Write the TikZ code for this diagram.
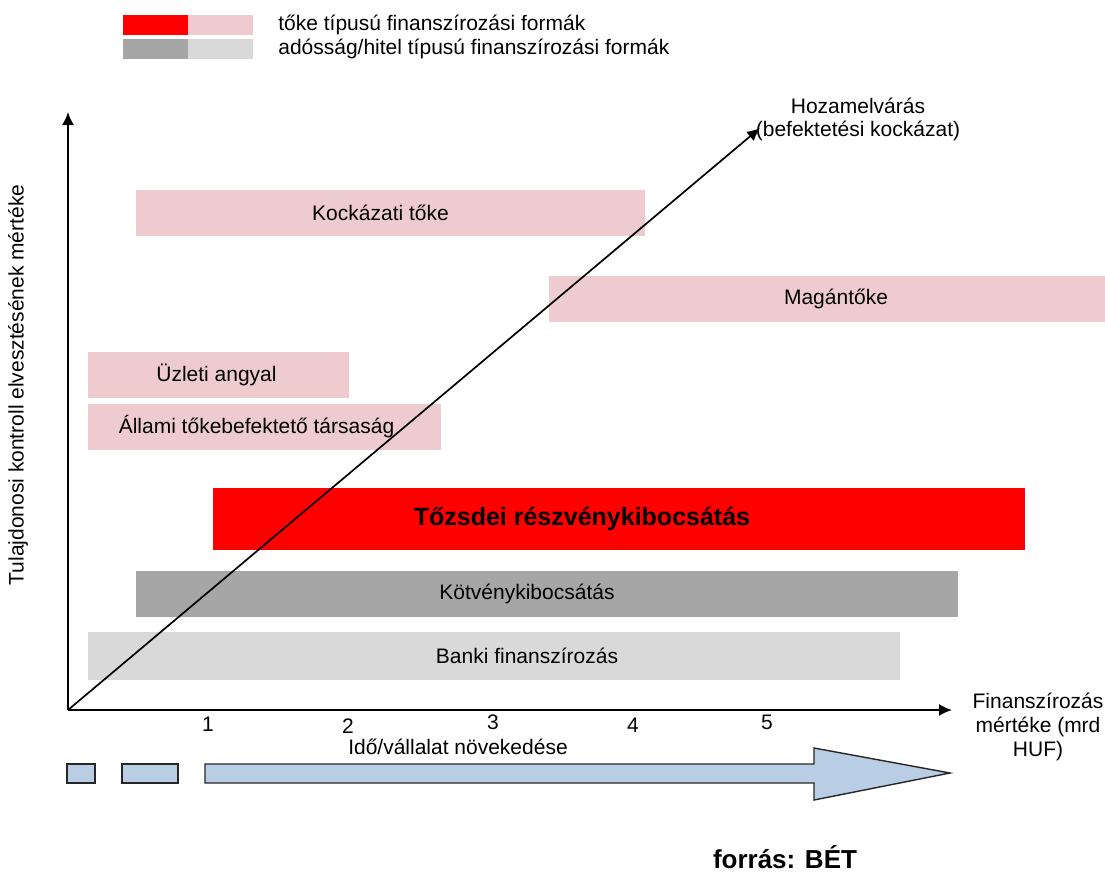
\documentclass[tikz,border=0pt]{standalone}
\usepackage{fontspec}
\setmainfont{Liberation Sans}
\usetikzlibrary{arrows.meta,positioning}
\tikzset{>={Latex[length=13pt,width=12pt]}}
\definecolor{equitydark}{RGB}{255,0,0}
\definecolor{equitylight}{RGB}{237,203,206}
\definecolor{debtdark}{RGB}{166,166,166}
\definecolor{debtlight}{RGB}{217,217,217}
\definecolor{timeblue}{RGB}{185,205,229}

\begin{document}
\begin{tikzpicture}[x=1pt,y=-1pt,line width=1.7pt,
  every node/.style={font=\fontsize{21}{24}\selectfont,inner sep=2pt},
  finbar/.style={minimum width=#1,minimum height=46pt,inner sep=0pt,outer sep=0pt},
  legbox/.style={minimum width=65pt,minimum height=20pt,inner sep=0pt,outer sep=0pt},
  timebar/.style={fill=timeblue,draw=black!85,line width=1.4pt}]
  \useasboundingbox (0,0) rectangle (1105,873);
  % Legend
  \node[legbox,fill=equitydark] (legEqA) at (155,25) {};
  \node[legbox,fill=equitylight,right=0pt of legEqA] (legEqB) {};
  \node[legbox,fill=debtdark] (legDebtA) at (155,49) {};
  \node[legbox,fill=debtlight,right=0pt of legDebtA] (legDebtB) {};
  \node[right=23pt of legEqB] (legEqTxt) {tőke típusú finanszírozási formák};
  \node[right=23pt of legDebtB] (legDebtTxt) {adósság/hitel típusú finanszírozási formák};
  % Financing forms
  \node[finbar=509pt,fill=equitylight] (kockazati) at (390.5,213) {};
  \node[finbar=556pt,fill=equitylight] (magan) at (827,298.5) {};
  \node[finbar=261pt,fill=equitylight] (angyal) at (218.5,374.5) {};
  \node[finbar=353pt,fill=equitylight] (allami) at (264.5,427) {};
  \node[finbar=812pt,minimum height=62pt,fill=equitydark] (tozsde) at (619,519) {};
  \node[finbar=822pt,fill=debtdark] (kotveny) at (547,594) {};
  \node[finbar=812pt,minimum height=48pt,fill=debtlight] (banki) at (494,656) {};
  \node[xshift=-10pt] (kockazatiTxt) at (kockazati) {Kockázati tőke};
  \node[xshift=9pt] (maganTxt) at (magan) {Magántőke};
  \node[xshift=-2pt] (angyalTxt) at (angyal) {Üzleti angyal};
  \node[xshift=-8pt] (allamiTxt) at (allami) {Állami tőkebefektető társaság};
  \node[xshift=-37pt,font=\fontsize{25}{28}\selectfont\bfseries] (tozsdeTxt) at (tozsde)
    {Tőzsdei részvénykibocsátás};
  \node[xshift=-20pt] (kotvenyTxt) at (kotveny) {Kötvénykibocsátás};
  \node[xshift=33pt] (bankiTxt) at (banki) {Banki finanszírozás};
  % Axes
  \coordinate (O) at (68,710);
  \coordinate (Ytop) at (68,112);
  \coordinate (Xend) at (952,710);
  \coordinate (Rend) at (760,128);
  \draw[->] (O) -- (Ytop);
  \draw[->] (O) -- (Xend);
  \draw[->] (O) -- (Rend);
  \foreach \x/\y/\lab in {208/724/1,348/726/2,493/722/3,633/725/4,767/722/5}
    \node (tick\lab) at (\x,\y) {\lab};
  \node[rotate=90] (ylab) at (18,385) {Tulajdonosi kontroll elvesztésének mértéke};
  \node[align=center] (xlab) at (1038,727) {Finanszírozás\\mértéke (mrd\\HUF)};
  \node[align=center,font=\fontsize{21}{23}\selectfont] (hozam) at (858,119)
    {Hozamelvárás\\(befektetési kockázat)};
  % Growth over time
  \draw[timebar] (67,764) rectangle (95,783);
  \draw[timebar] (122,764) rectangle (178,783);
  \draw[timebar] (205,764) -- (814,764) -- (814,748) -- (950,773)
    -- (814,800) -- (814,783) -- (205,783) -- cycle;
  \node (ido) at (458,747) {Idő/vállalat növekedése};
  \node[font=\fontsize{26}{30}\selectfont\bfseries] (forras) at (785,857) {forrás: BÉT};
\end{tikzpicture}
\end{document}
